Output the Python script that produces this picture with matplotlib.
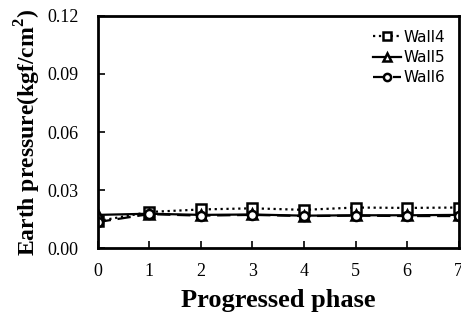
import matplotlib
matplotlib.use("Agg")
import matplotlib.pyplot as plt

phase = [0, 1, 2, 3, 4, 5, 6, 7]
wall4 = [0.014, 0.0187, 0.0200, 0.0206, 0.0198, 0.0210, 0.0208, 0.0210]
wall5 = [0.0172, 0.0178, 0.0172, 0.0174, 0.0168, 0.0170, 0.0170, 0.0172]
wall6 = [0.0135, 0.0176, 0.0168, 0.0172, 0.0166, 0.0168, 0.0166, 0.0166]

fig = plt.figure(figsize=(4.61, 3.24), dpi=100)
ax = fig.add_axes([0.212, 0.234, 0.783, 0.717])

ax.plot(phase, wall4, ls=':', color='black', lw=1.6, marker='s', ms=6.5,
        mfc='white', mec='black', mew=1.8, label='Wall4')
ax.plot(phase, wall5, ls='-', color='black', lw=1.6, marker='^', ms=6.5,
        mfc='white', mec='black', mew=1.8, label='Wall5')
ax.plot(phase, wall6, ls=(0, (6, 3)), color='black', lw=1.6, marker='o', ms=6.5,
        mfc='white', mec='black', mew=1.8, label='Wall6')

ax.set_xlim(0, 7)
ax.set_ylim(0, 0.12)
ax.set_xticks(phase)
ax.set_yticks([0, 0.03, 0.06, 0.09, 0.12])
ax.set_yticklabels(['0.00', '0.03', '0.06', '0.09', '0.12'])
ax.tick_params(direction='in', length=5, width=1.2, labelsize=13)
ax.tick_params(axis='x', pad=11)
ax.tick_params(axis='y', pad=14)
for lab in ax.get_xticklabels() + ax.get_yticklabels():
    lab.set_fontfamily('Liberation Serif')
for s in ax.spines.values():
    s.set_linewidth(2)

ax.set_xlabel('Progressed phase', fontsize=19, fontweight='bold',
              family='Liberation Serif', labelpad=6)
ax.set_ylabel('Earth pressure(kgf/cm$^\\mathregular{2}$)', fontsize=17,
              fontweight='bold', family='Liberation Serif', labelpad=3)

leg = ax.legend(loc='upper right', frameon=False,
                handlelength=1.8, handletextpad=0.15, labelspacing=0.35,
                borderaxespad=0.5, markerscale=0.8,
                prop={'family': 'DejaVu Sans', 'size': 11})

fig.savefig('out.png', dpi=100)
